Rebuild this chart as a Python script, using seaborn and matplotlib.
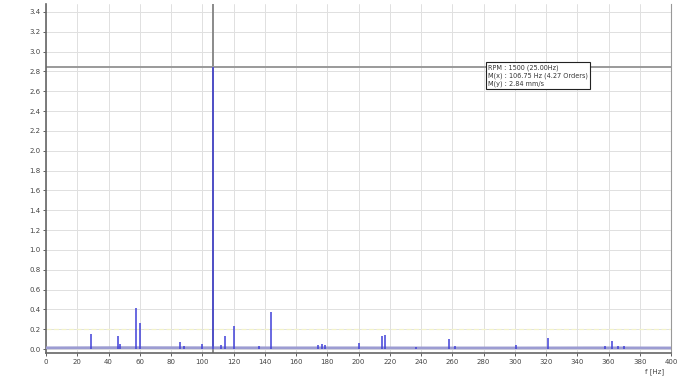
import matplotlib
matplotlib.use("Agg")
import matplotlib.pyplot as plt
import seaborn as sns
import pandas as pd

# Discrete spectral lines (frequency in Hz, velocity amplitude in mm/s)
peak_freq = [28.8, 46.0, 47.5, 57.6, 60.0, 85.8, 88.0, 100.0, 106.75, 112.0, 114.6,
             120.3, 136.0, 144.0, 174.0, 176.5, 178.5, 200.0, 215.0, 217.2, 237.0,
             258.0, 262.0, 300.8, 321.0, 358.0, 362.0, 366.0, 370.0]
peak_amp = [0.15, 0.13, 0.05, 0.41, 0.26, 0.07, 0.03, 0.05, 2.84, 0.04, 0.13,
            0.23, 0.03, 0.37, 0.04, 0.05, 0.04, 0.06, 0.13, 0.14, 0.02,
            0.10, 0.03, 0.04, 0.11, 0.03, 0.08, 0.03, 0.03]

# Broadband noise floor
floor_freq = [0, 50, 100, 150, 200, 250, 300, 350, 400]
floor_amp = [0.012, 0.014, 0.013, 0.012, 0.012, 0.011, 0.011, 0.012, 0.011]

x_ticks = list(range(0, 401, 20))
y_ticks = [round(0.2 * i, 1) for i in range(18)]

rpm = 1500
shaft_hz = 25.00
cursor_hz = 106.75
cursor_orders = 4.27
cursor_amp = 2.84
alarm_level = 0.2

sns.set_style("white")
plt.rcParams["font.family"] = ["DejaVu Sans"]

fig = plt.figure(figsize=(6.91, 3.78), dpi=100)
ax = fig.add_axes([46 / 691, 1 - 353 / 378, (671 - 46) / 691, (353 - 4) / 378])

floor_df = pd.DataFrame({"f": floor_freq, "a": floor_amp})
sns.lineplot(data=floor_df, x="f", y="a", ax=ax, color="#9c9cd2", lw=2.0, zorder=3)
ax.vlines(peak_freq, 0.005, peak_amp, color="#4040d8", lw=1.1, zorder=4)

# alarm level
ax.axhline(alarm_level, color="#f2f2c8", lw=0.9, ls=(0, (4, 2)), zorder=1)

# cursors
ax.axvline(cursor_hz, color="#8a8a8a", lw=1.4, zorder=2)
ax.axhline(cursor_amp, color="#9a9a9a", lw=1.4, zorder=2)

ax.set_xlim(0, 400)
ax.set_ylim(-0.04, 3.48)
ax.set_xticks(x_ticks)
ax.set_yticks(y_ticks)
ax.set_xticklabels([str(v) for v in x_ticks])
ax.set_yticklabels([f"{v:.1f}" for v in y_ticks])
ax.grid(True, color="#e0e0e0", lw=0.7)
ax.set_axisbelow(True)
ax.tick_params(axis="both", labelsize=5.0, colors="#444444", length=2, width=0.6,
               direction="out", pad=2)
ax.tick_params(axis="x", bottom=True)
ax.tick_params(axis="y", left=True)
for side in ["left", "bottom"]:
    ax.spines[side].set_color("#666666")
    ax.spines[side].set_linewidth(1.2)
ax.spines["right"].set_color("#999999")
ax.spines["top"].set_visible(False)
ax.set_xlabel("")
ax.set_ylabel("")

fig.text(655 / 691, 1 - 372 / 378, "f [Hz]", fontsize=5.0, color="#444444",
         ha="center", va="center")

info = (f"RPM : {rpm} ({shaft_hz:.2f}Hz)\n"
        f"M(x) : {cursor_hz:.2f} Hz ({cursor_orders:.2f} Orders)\n"
        f"M(y) : {cursor_amp:.2f} mm/s")
ax.text(283, 2.87, info, fontsize=4.7, color="#333333", va="top", ha="left",
        linespacing=1.3, zorder=6,
        bbox=dict(boxstyle="square,pad=0.35", fc="white", ec="#222222", lw=0.8))

fig.savefig("out.png", dpi=100, facecolor="white")
